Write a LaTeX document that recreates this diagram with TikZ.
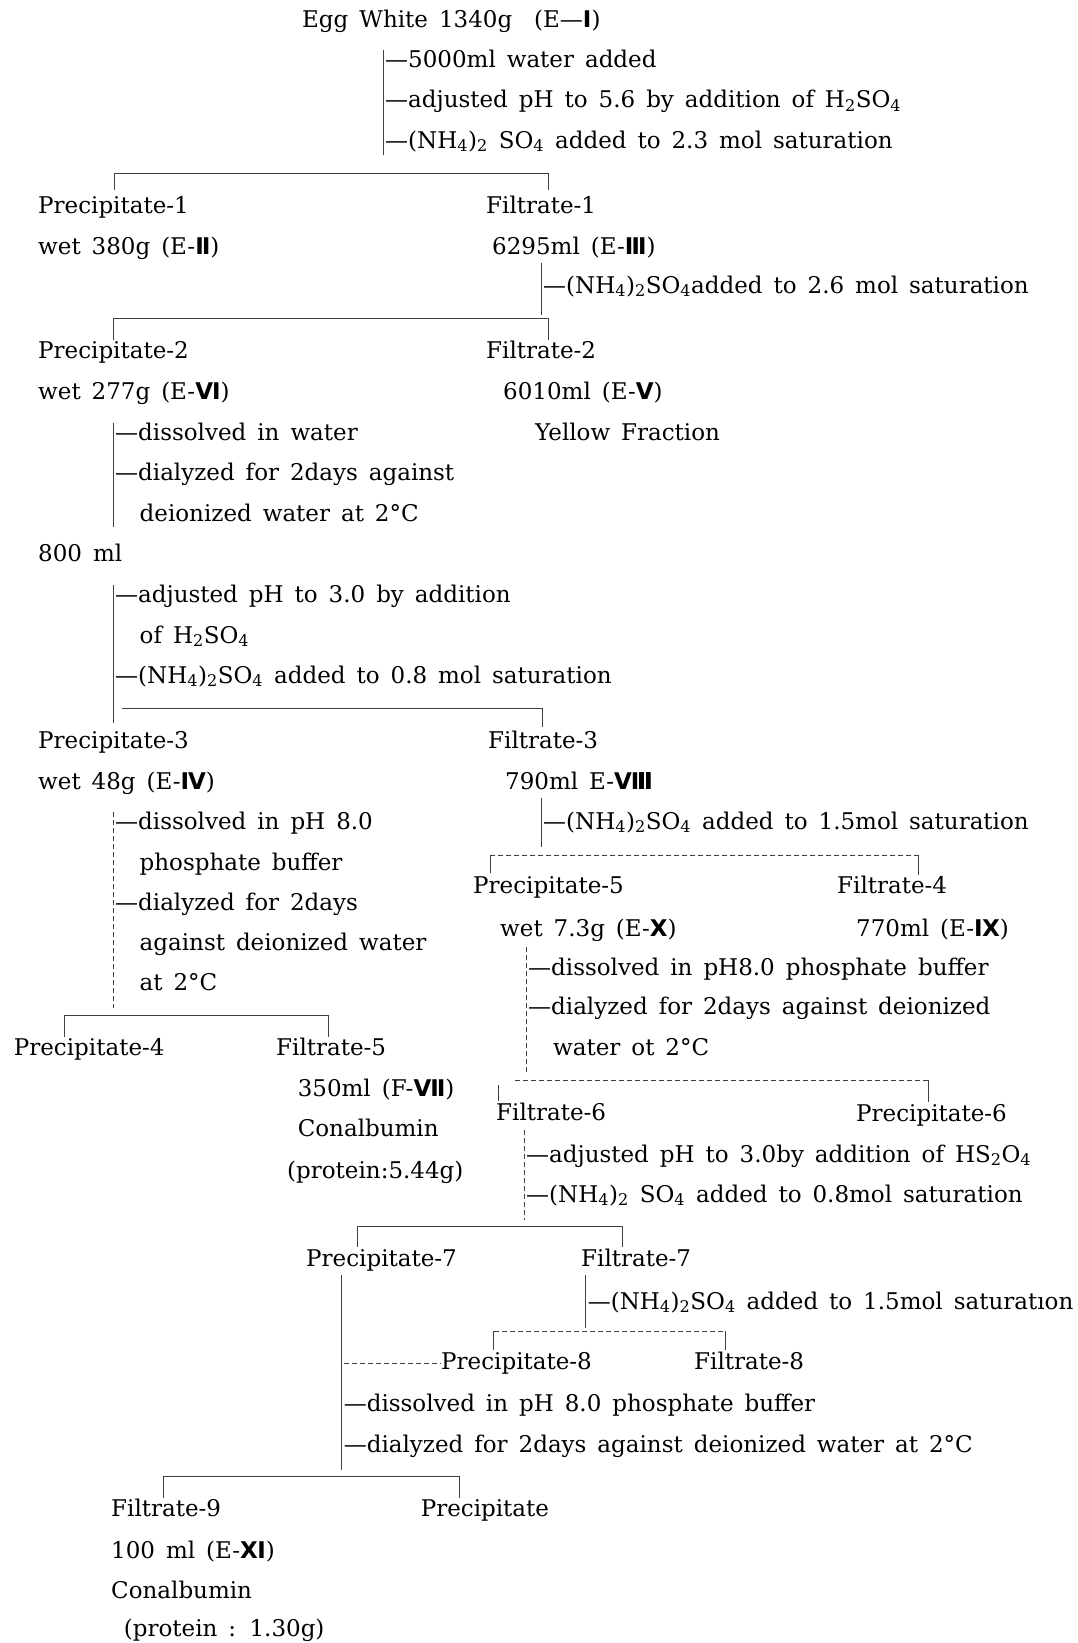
\documentclass[tikz,border=0pt]{standalone}
\usepackage{fontspec}
\setmainfont[WordSpace=1.5]{DejaVu Serif}
\newfontfamily\romfont{DejaVu Sans}
\newcommand\rmn[1]{{\romfont\bfseries #1}}
\newcommand\ssub[1]{\textsubscript{#1}}
\begin{document}
\begin{tikzpicture}[x=1pt,y=-1pt,
  t/.style={anchor=base west,inner sep=0pt,font=\fontsize{23}{27}\selectfont},
  ln/.style={line width=0.7pt,black!75},
  dln/.style={ln,dash pattern=on 5pt off 3pt}]
\useasboundingbox (0,0) rectangle (1077,1643);
\fill[white] (0,0) rectangle (1077,1643);

% ---------- text ----------
\node[t] (egg) at (302,28) {Egg White 1340g\ \ (E—\rmn{Ⅰ})};
\node[t] (s1) at (385,68) {—5000ml water added};
\node[t] (s2) at (385,108) {—adjusted pH to 5.6 by addition of H\ssub{2}SO\ssub{4}};
\node[t] (s3) at (385,148) {—(NH\ssub{4})\ssub{2} SO\ssub{4} added to 2.3 mol saturation};

\node[t] (p1) at (38,213) {Precipitate-1};
\node[t] (f1) at (486,213) {Filtrate-1};
\node[t] (p1w) at (38,254) {wet 380g (E-\rmn{Ⅱ})};
\node[t] (f1v) at (492,254) {6295ml (E-\rmn{Ⅲ})};
\node[t] (f1s) at (543,293) {—(NH\ssub{4})\ssub{2}SO\ssub{4}added to 2.6 mol saturation};

\node[t] (p2) at (38,358) {Precipitate-2};
\node[t] (f2) at (486,358) {Filtrate-2};
\node[t] (p2w) at (38,399) {wet 277g (E-\rmn{Ⅵ})};
\node[t] (f2v) at (503,399) {6010ml (E-\rmn{Ⅴ})};
\node[t] (p2s1) at (115,440) {—dissolved in water};
\node[t] (f2y) at (535,440) {Yellow Fraction};
\node[t] (p2s2) at (115,480) {—dialyzed for 2days against};
\node[t] (p2s3) at (139.5,521) {deionized water at 2°C};
\node[t] (v800) at (38,561) {800 ml};
\node[t] (q1) at (115,602) {—adjusted pH to 3.0 by addition};
\node[t] (q2) at (139.5,643) {of H\ssub{2}SO\ssub{4}};
\node[t] (q3) at (115,683) {—(NH\ssub{4})\ssub{2}SO\ssub{4} added to 0.8 mol saturation};

\node[t] (p3) at (38,748) {Precipitate-3};
\node[t] (f3) at (488,748) {Filtrate-3};
\node[t] (p3w) at (38,789) {wet 48g (E-\rmn{Ⅳ})};
\node[t] (f3v) at (505,789) {790ml E-\rmn{Ⅷ}};
\node[t] (p3s1) at (115,829) {—dissolved in pH 8.0};
\node[t] (p3s2) at (139.5,870) {phosphate buffer};
\node[t] (p3s3) at (115,910) {—dialyzed for 2days};
\node[t] (p3s4) at (139.5,950) {against deionized water};
\node[t] (p3s5) at (139.5,990) {at 2°C};
\node[t] (f3s) at (543,829) {—(NH\ssub{4})\ssub{2}SO\ssub{4} added to 1.5mol saturation};

\node[t] (p5) at (473,893) {Precipitate-5};
\node[t] (f4) at (837,893) {Filtrate-4};
\node[t] (p5w) at (500,936) {wet 7.3g (E-\rmn{Ⅹ})};
\node[t] (f4v) at (856,936) {770ml (E-\rmn{Ⅸ})};
\node[t] (p5s1) at (528,975) {—dissolved in pH8.0 phosphate buffer};
\node[t] (p5s2) at (528,1014) {—dialyzed for 2days against deionized};
\node[t] (p5s3) at (553,1055) {water ot 2°C};

\node[t] (p4) at (13.7,1055) {Precipitate-4};
\node[t] (f5) at (276,1055) {Filtrate-5};
\node[t] (f5v) at (297.6,1096) {350ml (F-\rmn{Ⅶ})};
\node[t] (f5c) at (297.6,1136) {Conalbumin};
\node[t] (f5p) at (287,1178) {(protein:5.44g)};

\node[t] (f6) at (496,1120) {Filtrate-6};
\node[t] (p6) at (856,1121) {Precipitate-6};
\node[t] (f6s1) at (526,1162) {—adjusted pH to 3.0by addition of HS\ssub{2}O\ssub{4}};
\node[t] (f6s2) at (526,1202) {—(NH\ssub{4})\ssub{2} SO\ssub{4} added to 0.8mol saturation};

\node[t] (p7) at (306,1266) {Precipitate-7};
\node[t] (f7) at (581,1266) {Filtrate-7};
\node[t] (f7s) at (587.6,1309) {—(NH\ssub{4})\ssub{2}SO\ssub{4} added to 1.5mol saturatıon};
\node[t] (p8) at (441,1369) {Precipitate-8};
\node[t] (f8) at (694,1369) {Filtrate-8};
\node[t] (p7s1) at (343.6,1411) {—dissolved in pH 8.0 phosphate buffer};
\node[t] (p7s2) at (343.6,1452) {—dialyzed for 2days against deionized water at 2°C};

\node[t] (f9) at (111,1516) {Filtrate-9};
\node[t] (pp) at (420.6,1516) {Precipitate};
\node[t] (f9v) at (111,1558) {100 ml (E-\rmn{Ⅺ})};
\node[t] (f9c) at (111,1598) {Conalbumin};
\node[t] (f9p) at (123.7,1636) {(protein : 1.30g)};

% ---------- connectors ----------
\coordinate (a0) at (383,50);   \coordinate (a1) at (383,155);
\coordinate (b1l) at (114,173); \coordinate (b1r) at (548,173);
\draw[ln] (a0) -- (a1);
\draw[ln] (b1l) ++(0,17) -- (b1l) -- (b1r) -- ++(0,17);

\coordinate (c0) at (541,263);  \coordinate (c1) at (541,315);
\coordinate (b2l) at (113,318); \coordinate (b2r) at (548,318);
\draw[ln] (c0) -- (c1);
\draw[ln] (b2l) ++(0,22) -- (b2l) -- (b2r) -- ++(0,22);

\coordinate (d0) at (113,423);  \coordinate (d1) at (113,527);
\draw[ln] (d0) -- (d1);
\coordinate (e0) at (113,585);  \coordinate (e1) at (113,723);
\draw[ln] (e0) -- (e1);
\coordinate (b3l) at (122,708); \coordinate (b3r) at (542,708);
\draw[ln] (b3l) -- (b3r) -- ++(0,19);

\coordinate (g0) at (113,812);  \coordinate (g1) at (113,1008);
\draw[dln] (g0) -- (g1);
\coordinate (b4l) at (64,1015); \coordinate (b4r) at (328,1015);
\draw[ln] (b4l) ++(0,22) -- (b4l) -- (b4r) -- ++(0,22);

\coordinate (h0) at (541,798);  \coordinate (h1) at (541,847);
\draw[ln] (h0) -- (h1);
\coordinate (b5l) at (490,855); \coordinate (b5r) at (918,855);
\draw[dln] (b5l) -- (b5r);
\draw[ln] (b5l) -- ++(0,18);
\draw[ln] (b5r) -- ++(0,20);

\coordinate (k0) at (526,947);  \coordinate (k1) at (526,1073);
\draw[dln] (k0) -- (k1);
\coordinate (b6l) at (515,1080); \coordinate (b6r) at (928,1080);
\draw[dln] (b6l) -- (b6r);
\draw[ln] (b6r) -- ++(0,22);
\coordinate (b6t) at (498,1085);
\draw[ln] (b6t) -- ++(0,16);

\coordinate (m0) at (524,1130);  \coordinate (m1) at (524,1220);
\draw[dln] (m0) -- (m1);
\coordinate (b7l) at (357,1226); \coordinate (b7r) at (622,1226);
\draw[ln] (b7l) ++(0,21) -- (b7l) -- (b7r) -- ++(0,21);

\coordinate (n0) at (341.6,1275); \coordinate (n1) at (341.6,1470);
\draw[ln] (n0) -- (n1);
\coordinate (o0) at (585.6,1275); \coordinate (o1) at (585.6,1328);
\draw[ln] (o0) -- (o1);
\coordinate (b8l) at (493.5,1331); \coordinate (b8r) at (725,1331);
\draw[dln] (b8l) -- (b8r);
\draw[ln] (b8l) -- ++(0,19);
\draw[ln] (b8r) -- ++(0,19);
\coordinate (r0) at (343.6,1363);
\draw[dln] (r0) -- (p8.west |- r0);

\coordinate (b9l) at (163,1476); \coordinate (b9r) at (459,1476);
\draw[ln] (b9l) ++(0,22) -- (b9l) -- (b9r) -- ++(0,22);
\end{tikzpicture}
\end{document}
